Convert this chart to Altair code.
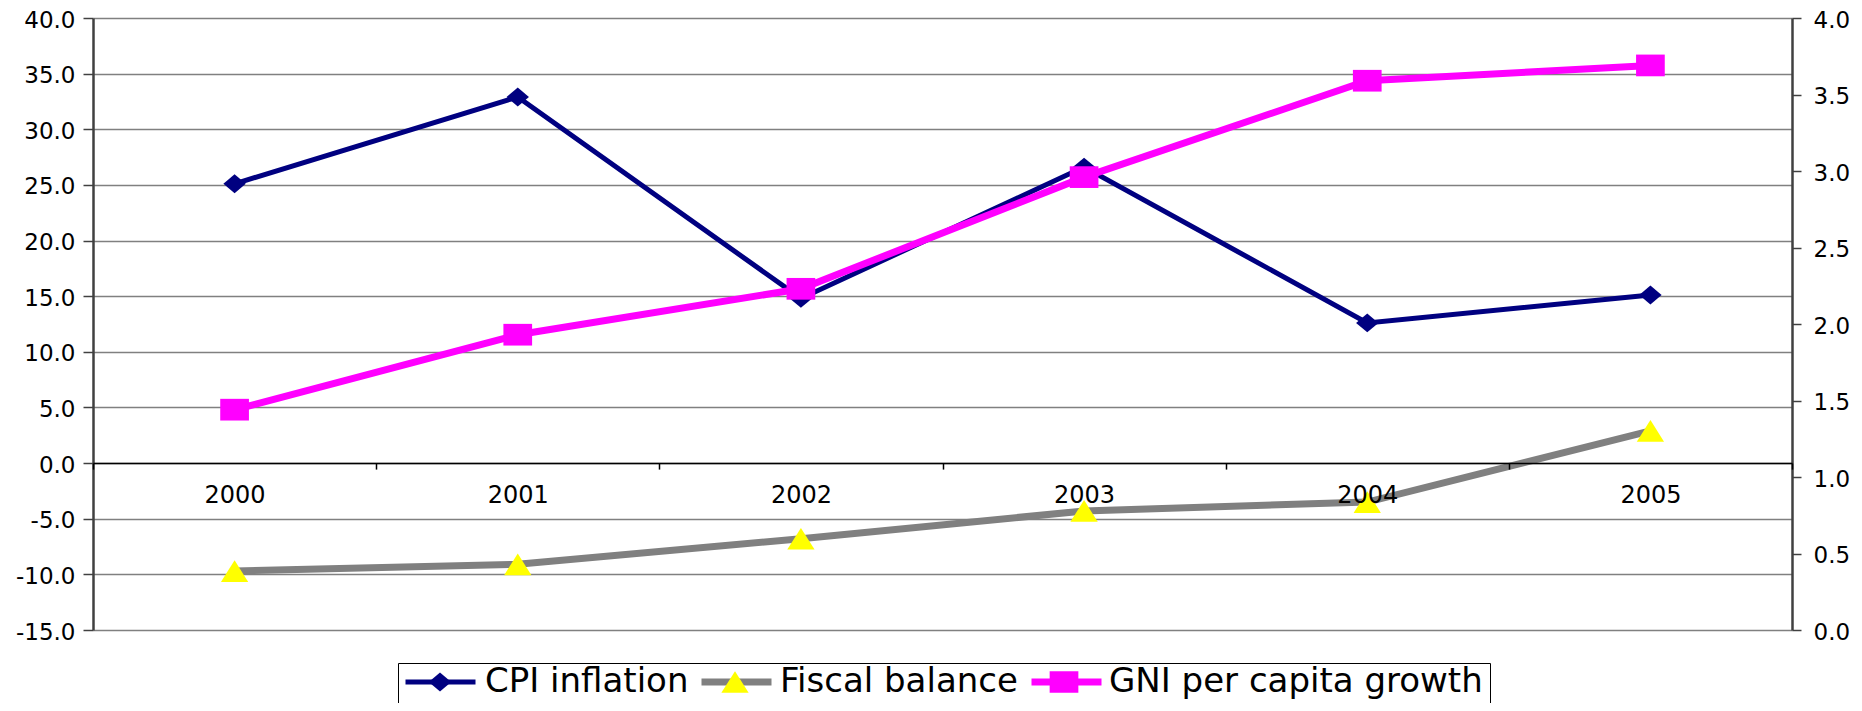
import altair as alt
import pandas as pd

years = ["2000", "2001", "2002", "2003", "2004", "2005"]
cpi = [25.1, 32.9, 14.8, 26.6, 12.6, 15.1]
fiscal = [-9.7, -9.1, -6.8, -4.3, -3.5, 2.9]
gni = [1.44, 1.93, 2.23, 2.96, 3.59, 3.69]

series_names = ["CPI inflation", "Fiscal balance", "GNI per capita growth"]
marker_codes = ["a", "b", "c"]
line_colors = ["#000080", "#808080", "#FF00FF"]
marker_colors = ["#000080", "#FFFF00", "#FF00FF"]
line_widths = [5, 7, 7]
marker_paths = [
    "M0,-0.27L0.32,0L0,0.27L-0.32,0Z",
    "M0,-0.31L0.39,0.31L-0.39,0.31Z",
    "M-0.41,-0.31L0.41,-0.31L0.41,0.31L-0.41,0.31Z",
]
left_ticks = [-15, -10, -5, 0, 5, 10, 15, 20, 25, 30, 35, 40]
right_ticks = [0, 0.5, 1, 1.5, 2, 2.5, 3, 3.5, 4]

rows = []
for name, code, vals in zip(series_names, marker_codes, [cpi, fiscal, gni]):
    for yr, v in zip(years, vals):
        rows.append({"year": yr, "value": v, "series": name, "marker": code})
df = pd.DataFrame(rows)

FONT = "DejaVu Sans"
W, H = 1699, 612
zero_off = -(H - H * 40 / 55)

x_enc = alt.X(
    "year:O",
    bandPosition=0.5,
    scale=alt.Scale(type="band", domain=years, paddingInner=0, paddingOuter=0),
    axis=alt.Axis(
        title=None, orient="bottom", offset=zero_off, labelAngle=0,
        labelFont=FONT, labelFontSize=24, labelColor="black", labelPadding=14,
        tickBand="extent", tickSize=6, tickColor="black", tickWidth=1.5,
        domainColor="black", domainWidth=1.5, grid=False, zindex=1,
    ),
)

yL = alt.Y(
    "value:Q",
    scale=alt.Scale(domain=[-15, 40], nice=False, zero=False),
    axis=alt.Axis(
        title=None, orient="left", values=left_ticks,
        labelExpr="(datum.value < 0 ? '-' : '') + format(abs(datum.value), '.1f')",
        labelFont=FONT, labelFontSize=23, labelColor="black", labelPadding=8,
        labelOffset=2,
        tickSize=10, tickColor="#404040", tickWidth=1.5,
        domainColor="#404040", domainWidth=2.5,
        grid=True, gridColor="#808080", gridWidth=1.5,
    ),
)

yR = alt.Y(
    "value:Q",
    scale=alt.Scale(domain=[0, 4], nice=False, zero=False),
    axis=alt.Axis(
        title=None, orient="right", values=right_ticks, format=".1f",
        labelFont=FONT, labelFontSize=23, labelColor="black", labelPadding=12,
        labelOffset=2,
        tickSize=9, tickColor="#404040", tickWidth=1.5,
        domainColor="#404040", domainWidth=2.5, grid=False,
    ),
)

legend_common = dict(
    title=None, orient="none", legendX=305, legendY=645,
    direction="horizontal", columns=3, symbolSize=4900, symbolStrokeWidth=6,
    clipHeight=30, labelFont=FONT, labelFontSize=34, labelLimit=1000,
    labelOffset=7, columnPadding=8, padding=4,
)

label_map = " : ".join(
    f"datum.label == '{c}' ? '{n}'" for c, n in zip(marker_codes[:-1], series_names[:-1])
) + f" : '{series_names[-1]}'"

color_enc = alt.Color(
    "series:N",
    scale=alt.Scale(domain=series_names, range=line_colors),
    legend=alt.Legend(symbolType="stroke", labelOpacity=0, strokeColor="black",
                      **legend_common),
)
sw_enc = alt.StrokeWidth(
    "series:N",
    scale=alt.Scale(type="ordinal", domain=series_names, range=line_widths),
    legend=None,
)
fill_enc = alt.Fill(
    "marker:N",
    scale=alt.Scale(domain=marker_codes, range=marker_colors),
    legend=alt.Legend(labelColor="black", symbolStrokeColor="transparent",
                      labelExpr=label_map, **legend_common),
)
shape_enc = alt.Shape(
    "marker:N",
    scale=alt.Scale(domain=marker_codes, range=marker_paths),
    legend=alt.Legend(labelColor="black", symbolStrokeColor="transparent",
                      labelExpr=label_map, **legend_common),
)

left_df = df[df["series"] != series_names[2]]
right_df = df[df["series"] == series_names[2]]

lineL = alt.Chart(left_df).mark_line().encode(x=x_enc, y=yL, color=color_enc, strokeWidth=sw_enc)
pointL = alt.Chart(left_df).mark_point(filled=True, size=4900, opacity=1).encode(
    x=x_enc, y=yL, fill=fill_enc, shape=shape_enc)
lineR = alt.Chart(right_df).mark_line().encode(x=x_enc, y=yR, color=color_enc, strokeWidth=sw_enc)
pointR = alt.Chart(right_df).mark_point(filled=True, size=4900, opacity=1).encode(
    x=x_enc, y=yR, fill=fill_enc, shape=shape_enc)

left = alt.layer(lineL, pointL)
right = alt.layer(lineR, pointR)

chart = (
    alt.layer(left, right)
    .resolve_scale(y="independent")
    .properties(
        width=W, height=H,
        autosize=alt.AutoSizeParams(type="none"),
        padding={"left": 85, "top": 10, "right": 62, "bottom": 73},
        background="white",
    )
    .configure_view(stroke=None)
)

chart.save("out.html", embed_options={"renderer": "svg", "actions": False})
